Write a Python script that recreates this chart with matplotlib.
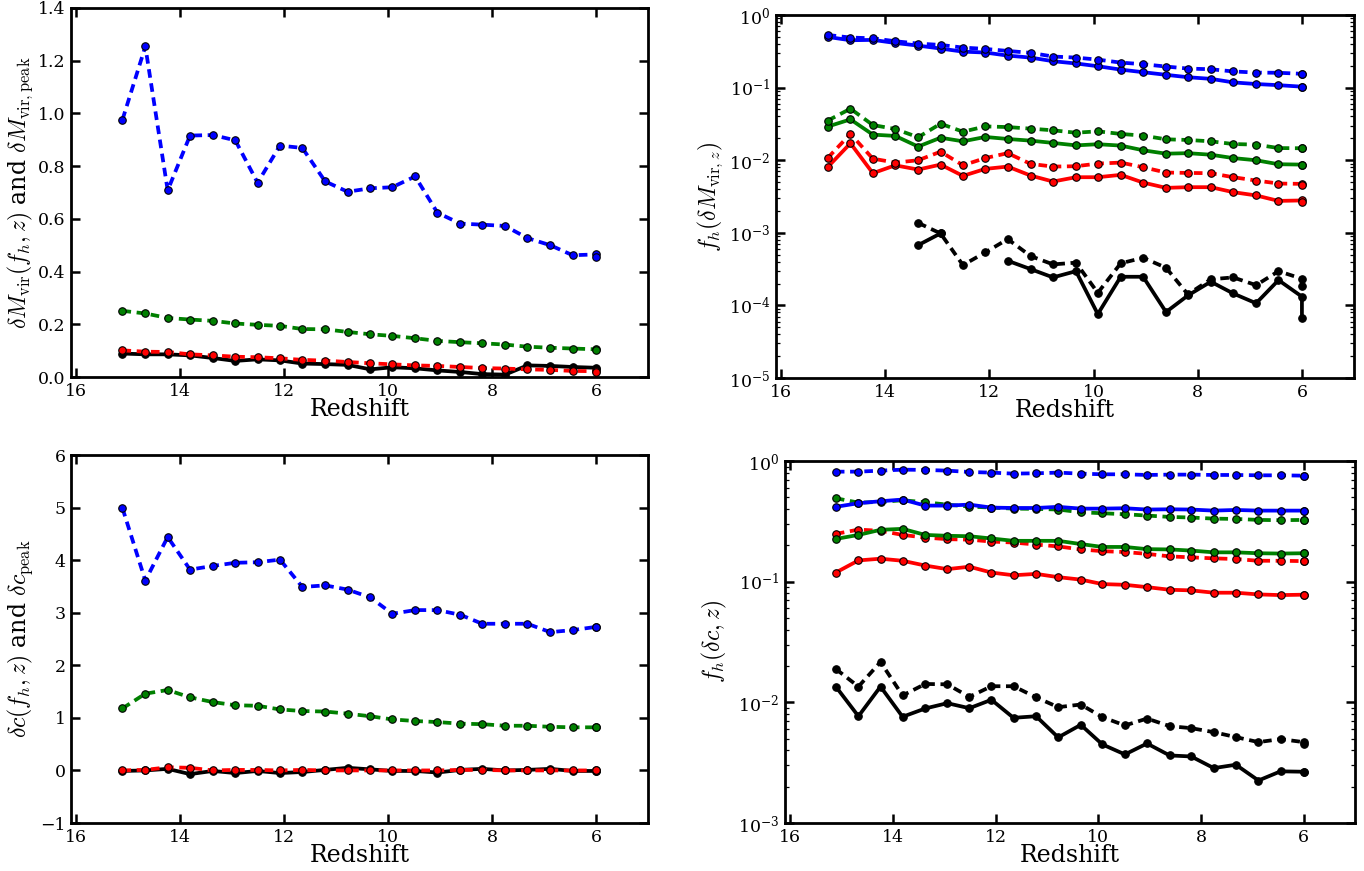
import numpy as np
import matplotlib
matplotlib.use("Agg")
import matplotlib.pyplot as plt
from matplotlib.ticker import LogLocator, NullFormatter, MultipleLocator, FormatStrFormatter

plt.rcParams['font.family'] = ['DejaVu Serif']
plt.rcParams['mathtext.fontset'] = 'cm'

# Redshift of snapshots (last snapshot appears twice)
z = [15.11, 14.67, 14.24, 13.81, 13.37, 12.94, 12.51, 12.08, 11.65, 11.21, 10.78,
     10.34, 9.92, 9.48, 9.05, 8.61, 8.19, 7.75, 7.32, 6.88, 6.45, 6.0, 6.0]

nan = np.nan

# ---- top-left: dM_vir(f_h, z) and dM_vir,peak ----
tl_blue_dash = [0.976, 1.254, 0.708, 0.916, 0.918, 0.898, 0.737, 0.878, 0.869, 0.742, 0.703,
                0.716, 0.720, 0.761, 0.623, 0.582, 0.578, 0.573, 0.527, 0.500, 0.462, 0.465, 0.454]
tl_green_dash = [0.251, 0.241, 0.224, 0.218, 0.213, 0.203, 0.198, 0.194, 0.182, 0.181, 0.171,
                 0.162, 0.156, 0.147, 0.137, 0.132, 0.128, 0.123, 0.115, 0.111, 0.108, 0.105, 0.104]
tl_red_dash = [0.101, 0.096, 0.095, 0.086, 0.082, 0.077, 0.075, 0.071, 0.065, 0.062, 0.057,
               0.052, 0.048, 0.044, 0.042, 0.038, 0.034, 0.032, 0.029, 0.027, 0.023, 0.022, 0.020]
tl_black = [0.089, 0.086, 0.086, 0.082, 0.072, 0.061, 0.067, 0.063, 0.051, 0.049, 0.046,
            0.029, 0.037, 0.033, 0.025, 0.019, 0.011, 0.009, 0.044, 0.042, 0.038, 0.035, 0.032]

# ---- top-right: f_h(dM_vir, z) ----
tr_blue = [0.499, 0.449, 0.454, 0.412, 0.379, 0.345, 0.313, 0.304, 0.276, 0.259, 0.231,
           0.215, 0.197, 0.177, 0.163, 0.150, 0.139, 0.132, 0.118, 0.112, 0.108, 0.103, 0.103]
tr_blue_dash = [0.531, 0.489, 0.478, 0.435, 0.404, 0.387, 0.356, 0.341, 0.320, 0.301, 0.268,
                0.259, 0.243, 0.221, 0.210, 0.195, 0.183, 0.179, 0.167, 0.161, 0.160, 0.155, 0.153]
tr_green = [0.0290, 0.0365, 0.0225, 0.0216, 0.0154, 0.0204, 0.0182, 0.0209, 0.0196, 0.0186, 0.0173,
            0.0160, 0.0166, 0.0159, 0.0137, 0.0123, 0.0125, 0.0119, 0.0107, 0.00998, 0.0088, 0.0087, 0.0087]
tr_green_dash = [0.0350, 0.0512, 0.0305, 0.0269, 0.0207, 0.0318, 0.0247, 0.0292, 0.0286, 0.0272, 0.0258,
                 0.0239, 0.0250, 0.0230, 0.0218, 0.0194, 0.0190, 0.0182, 0.0167, 0.0164, 0.0147, 0.0146, 0.0146]
tr_red = [0.0080, 0.0171, 0.00662, 0.0085, 0.00743, 0.0087, 0.00608, 0.00759, 0.00817, 0.00614, 0.00508,
          0.00583, 0.00583, 0.00628, 0.00492, 0.00416, 0.00425, 0.00425, 0.00363, 0.00327, 0.00275, 0.00279, 0.00262]
tr_red_dash = [0.0107, 0.0230, 0.0105, 0.00927, 0.00998, 0.0131, 0.00851, 0.0107, 0.0125, 0.00889, 0.00817,
               0.00826, 0.00898, 0.00927, 0.00800, 0.00676, 0.00668, 0.00662, 0.00583, 0.00525, 0.00477, 0.00472, 0.00457]
tr_black = [nan, nan, nan, nan, 0.000676, 0.00098, nan, nan, 0.000412, 0.000316, 0.000243,
            0.000296, 0.0000759, 0.000248, 0.000248, 0.0000810, 0.000137, 0.000212, 0.000146, 0.000107,
            0.000223, 0.000132, 0.0000661]
tr_black_dash = [nan, nan, nan, nan, 0.00137, 0.00098, 0.000359, 0.000537, 0.000818, 0.000478, 0.000367,
                 0.000388, 0.000149, 0.000380, 0.000453, 0.000330, 0.000142, 0.000229, 0.000243, 0.000190,
                 0.000296, 0.000233, 0.000185]

# ---- bottom-left: dc(f_h, z) and dc_peak ----
bl_blue_dash = [4.99, 3.61, 4.44, 3.82, 3.89, 3.95, 3.96, 4.01, 3.49, 3.52, 3.44,
                3.29, 2.98, 3.05, 3.05, 2.96, 2.79, 2.79, 2.79, 2.63, 2.67, 2.73, 2.72]
bl_green_dash = [1.18, 1.46, 1.53, 1.39, 1.30, 1.24, 1.23, 1.16, 1.13, 1.12, 1.08,
                 1.03, 0.97, 0.94, 0.92, 0.89, 0.88, 0.85, 0.85, 0.83, 0.82, 0.82, 0.82]
bl_red_dash = [0.0, 0.01, 0.06, 0.05, 0.0, 0.01, 0.01, 0.0, 0.01, 0.0, 0.0,
               0.0, 0.0, 0.0, 0.0, 0.01, 0.01, 0.0, 0.0, 0.0, 0.0, 0.0, 0.0]
bl_black = [-0.01, 0.0, 0.03, -0.07, -0.01, -0.05, -0.01, -0.05, -0.03, 0.01, 0.05,
            0.02, -0.01, -0.01, -0.04, 0.01, 0.03, 0.0, 0.01, 0.03, -0.01, -0.01, -0.01]

# ---- bottom-right: f_h(dc, z) ----
br_blue = [0.417, 0.447, 0.464, 0.479, 0.427, 0.427, 0.435, 0.411, 0.408, 0.408, 0.417,
           0.403, 0.403, 0.406, 0.396, 0.398, 0.396, 0.388, 0.393, 0.388, 0.388, 0.388, 0.388]
br_blue_dash = [0.816, 0.816, 0.832, 0.848, 0.843, 0.832, 0.811, 0.801, 0.786, 0.791, 0.801,
                0.786, 0.776, 0.776, 0.766, 0.771, 0.771, 0.766, 0.766, 0.761, 0.761, 0.756, 0.756]
br_green = [0.226, 0.244, 0.269, 0.274, 0.244, 0.240, 0.238, 0.228, 0.218, 0.218, 0.218,
            0.205, 0.194, 0.194, 0.186, 0.185, 0.181, 0.175, 0.175, 0.172, 0.171, 0.172, 0.172]
br_green_dash = [0.491, 0.452, 0.458, 0.473, 0.455, 0.435, 0.419, 0.411, 0.403, 0.401, 0.396,
                 0.376, 0.369, 0.362, 0.353, 0.344, 0.340, 0.333, 0.331, 0.325, 0.323, 0.325, 0.325]
br_red = [0.119, 0.150, 0.155, 0.149, 0.136, 0.127, 0.133, 0.119, 0.113, 0.116, 0.109,
          0.104, 0.0955, 0.0942, 0.0901, 0.0857, 0.0847, 0.0810, 0.0810, 0.0784, 0.0774, 0.0780, 0.0780]
br_red_dash = [0.249, 0.270, 0.264, 0.244, 0.232, 0.225, 0.223, 0.215, 0.211, 0.203, 0.196,
               0.185, 0.179, 0.176, 0.170, 0.162, 0.159, 0.156, 0.154, 0.149, 0.149, 0.148, 0.148]
br_black = [0.0135, 0.00767, 0.0135, 0.00759, 0.00889, 0.00984, 0.00894, 0.0105, 0.00744, 0.00767, 0.00512,
            0.00651, 0.00448, 0.00370, 0.00456, 0.00363, 0.00356, 0.00285, 0.00304, 0.00225, 0.00268,
            0.00266, 0.00266]
br_black_dash = [0.0189, 0.0135, 0.0216, 0.0114, 0.0142, 0.0141, 0.0111, 0.0136, 0.0136, 0.0110, 0.00912,
                 0.00959, 0.00754, 0.00643, 0.00734, 0.00635, 0.00611, 0.00566, 0.00515, 0.00468, 0.00496,
                 0.00468, 0.00451]

W, H = 1364, 871
fig = plt.figure(figsize=(W / 100, H / 100), dpi=100)


def make_ax(l, r, t, b):
    return fig.add_axes([l / W, 1 - b / H, (r - l) / W, (b - t) / H])


LW = 2.7
MS = 5.4
DASH = (2.3, 1.5)
COL = {'b': '#0000ff', 'g': '#008000', 'r': '#ff0000', 'k': '#000000'}


def line(ax, y, c, dashed=False):
    kw = dict(color=COL[c], lw=LW, marker='o', ms=MS, mfc=COL[c], mec='k', mew=0.8)
    ln, = ax.plot(z, y, **kw)
    if dashed:
        ln.set_dashes(DASH)
    return ln


def style(ax, log=False):
    for s in ax.spines.values():
        s.set_linewidth(2.0)
    ax.set_xlim(16.1, 5.0)
    ax.xaxis.set_major_locator(MultipleLocator(2))
    ax.tick_params(which='major', direction='in', length=6.5, width=1.8,
                   top=True, right=True, labelsize=12.5, pad=4)
    ax.tick_params(which='minor', direction='in', length=3, width=0.9,
                   top=True, right=True)
    ax.set_xlabel('Redshift', fontsize=17)
    ax.xaxis.set_label_coords(0.5, -0.058)
    if log:
        ax.yaxis.set_minor_locator(LogLocator(base=10, subs=np.arange(2, 10), numticks=20))
        ax.yaxis.set_minor_formatter(NullFormatter())


# top-left
ax1 = make_ax(71, 648, 8, 377)
line(ax1, tl_black, 'k')
line(ax1, tl_red_dash, 'r', True)
line(ax1, tl_green_dash, 'g', True)
line(ax1, tl_blue_dash, 'b', True)
ax1.set_ylim(0, 1.4)
ax1.yaxis.set_major_locator(MultipleLocator(0.2))
ax1.yaxis.set_major_formatter(FormatStrFormatter('%.1f'))
style(ax1)
ax1.set_ylabel(r'$\delta M_{\rm vir}(f_h,z)$ and $\delta M_{\rm vir,peak}$', fontsize=17)
ax1.yaxis.set_label_coords(-0.062, 0.5)

# top-right
ax2 = make_ax(776, 1354, 15, 378)
ax2.set_yscale('log')
line(ax2, tr_black, 'k')
line(ax2, tr_black_dash, 'k', True)
line(ax2, tr_red, 'r')
line(ax2, tr_red_dash, 'r', True)
line(ax2, tr_green, 'g')
line(ax2, tr_green_dash, 'g', True)
line(ax2, tr_blue, 'b')
line(ax2, tr_blue_dash, 'b', True)
ax2.set_ylim(1e-5, 1)
style(ax2, log=True)
ax2.set_ylabel(r'$f_h(\delta M_{{\rm vir},z})$', fontsize=17)
ax2.yaxis.set_label_coords(-0.088, 0.5)

# bottom-left
ax3 = make_ax(71, 648, 455, 823)
line(ax3, bl_black, 'k')
line(ax3, bl_red_dash, 'r', True)
line(ax3, bl_green_dash, 'g', True)
line(ax3, bl_blue_dash, 'b', True)
ax3.set_ylim(-1, 6)
ax3.yaxis.set_major_locator(MultipleLocator(1))
style(ax3)
ax3.set_ylabel(r'$\delta c(f_h,z)$ and $\delta c_{\rm peak}$', fontsize=17)
ax3.yaxis.set_label_coords(-0.062, 0.5)

# bottom-right
ax4 = make_ax(785, 1355, 461, 823)
ax4.set_yscale('log')
line(ax4, br_black, 'k')
line(ax4, br_black_dash, 'k', True)
line(ax4, br_red, 'r')
line(ax4, br_red_dash, 'r', True)
line(ax4, br_green, 'g')
line(ax4, br_green_dash, 'g', True)
line(ax4, br_blue, 'b')
line(ax4, br_blue_dash, 'b', True)
ax4.set_ylim(1e-3, 1)
style(ax4, log=True)
ax4.set_ylabel(r'$f_h(\delta c,z)$', fontsize=17)
ax4.yaxis.set_label_coords(-0.098, 0.5)

fig.savefig('out.png', dpi=100)
